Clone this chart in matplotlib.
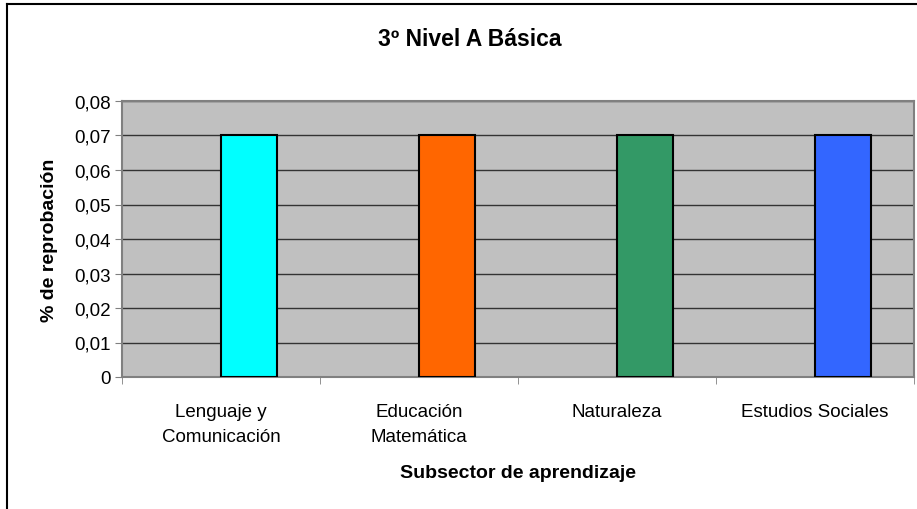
import matplotlib.pyplot as plt
import matplotlib.lines as mlines
import numpy as np

plt.rcParams['font.family'] = ['Liberation Sans', 'DejaVu Sans']

titulo = "3º Nivel A Básica"
categorias = ["Lenguaje y\nComunicación", "Educación\nMatemática", "Naturaleza", "Estudios Sociales"]
reprobacion = [0.07, 0.07, 0.07, 0.07]
colores = ["#00FFFF", "#FF6600", "#339966", "#3366FF"]
yticks = [0, 0.01, 0.02, 0.03, 0.04, 0.05, 0.06, 0.07, 0.08]
ytick_labels = ["0", "0,01", "0,02", "0,03", "0,04", "0,05", "0,06", "0,07", "0,08"]

fig = plt.figure(figsize=(9.17, 5.10), dpi=100)
ax = fig.add_axes([122/917, 1 - 378/510, (914-122)/917, (378-102)/510])
ax.set_facecolor("#C0C0C0")

x = np.arange(len(categorias))
# Excel style: bar sits right of category centre (empty first series)
ax.bar(x, reprobacion, width=56/198, align='edge', color=colores,
       edgecolor='black', linewidth=1.5, zorder=3)

ax.set_xlim(-0.5, len(categorias) - 0.5)
ax.set_ylim(0, 0.08)
ax.set_yticks(yticks)
ax.set_yticklabels(ytick_labels, fontsize=13.5)
ax.yaxis.grid(True, color="#333333", linewidth=1.0, zorder=1)
ax.set_axisbelow(True)

ax.set_xticks(x)
ax.set_xticklabels(categorias, fontsize=13.5, linespacing=1.55, va='top')
ax.tick_params(axis='x', length=0, pad=19)
ax.set_xticks(np.arange(-0.5, len(categorias)), minor=True)
ax.tick_params(axis='x', which='minor', length=5, color='#808080', direction='out')
ax.tick_params(axis='y', length=5, color='#808080', direction='out', pad=3)

for s in ax.spines.values():
    s.set_color("#808080")
    s.set_linewidth(1.5)

ax.set_ylabel("% de reprobación", fontsize=14, fontweight='bold', labelpad=12)
ax.set_xlabel("Subsector de aprendizaje", fontsize=14, fontweight='bold', labelpad=14)
fig.text(470/917, 1 - 40/510, titulo, fontsize=16.5, fontweight='bold', ha='center', va='center')

# outer chart frame (cropped: only left and top visible)
fig.add_artist(mlines.Line2D([7/917, 7/917], [0, 1 - 5/510], color='black', linewidth=1.5))
fig.add_artist(mlines.Line2D([7/917, 1], [1 - 5/510, 1 - 5/510], color='black', linewidth=1.5))

fig.savefig("out.png", dpi=100)
